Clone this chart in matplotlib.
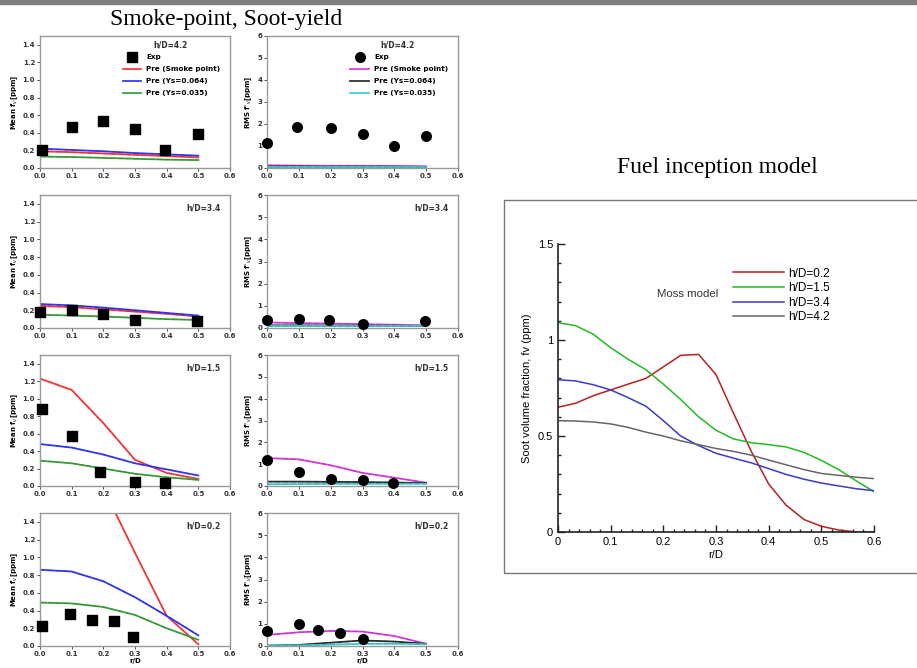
import matplotlib
matplotlib.use("Agg")
import matplotlib.pyplot as plt
from matplotlib.patches import Rectangle
from matplotlib.ticker import MultipleLocator

# ---- data ----
r_pre = [0.0, 0.1, 0.2, 0.3, 0.4, 0.5]
heights = ["4.2", "3.4", "1.5", "0.2"]

# mean fv, h/D=4.2
exp_r_mean_42 = [0.005, 0.1, 0.2, 0.3, 0.395, 0.5]
exp_mean_42 = [0.20, 0.47, 0.53, 0.44, 0.20, 0.39]
smoke_mean_42 = [0.19, 0.18, 0.165, 0.15, 0.135, 0.12]
ys064_mean_42 = [0.22, 0.205, 0.19, 0.17, 0.155, 0.14]
ys035_mean_42 = [0.13, 0.125, 0.115, 0.105, 0.095, 0.09]
# rms, h/D=4.2
exp_r_rms_42 = [0.0, 0.095, 0.2, 0.3, 0.4, 0.5]
exp_rms_42 = [1.15, 1.85, 1.80, 1.55, 0.98, 1.45]
smoke_rms_42 = [0.12, 0.11, 0.10, 0.10, 0.09, 0.08]
ys064_rms_42 = [0.07, 0.07, 0.06, 0.06, 0.06, 0.05]
ys035_rms_42 = [0.04, 0.04, 0.04, 0.04, 0.04, 0.04]

# h/D=3.4
exp_r_mean_34 = [0.0, 0.1, 0.2, 0.3, 0.495]
exp_mean_34 = [0.18, 0.20, 0.16, 0.09, 0.08]
smoke_mean_34 = [0.25, 0.235, 0.21, 0.185, 0.16, 0.13]
ys064_mean_34 = [0.27, 0.255, 0.23, 0.20, 0.17, 0.14]
ys035_mean_34 = [0.15, 0.14, 0.13, 0.115, 0.10, 0.09]
exp_r_rms_34 = [0.0, 0.1, 0.195, 0.3, 0.495]
exp_rms_34 = [0.35, 0.42, 0.35, 0.20, 0.30]
smoke_rms_34 = [0.25, 0.22, 0.20, 0.17, 0.15, 0.12]
ys064_rms_34 = [0.12, 0.12, 0.11, 0.10, 0.10, 0.09]
ys035_rms_34 = [0.08, 0.08, 0.08, 0.08, 0.08, 0.08]

# h/D=1.5
exp_r_mean_15 = [0.005, 0.1, 0.19, 0.3, 0.395]
exp_mean_15 = [0.88, 0.57, 0.16, 0.05, 0.03]
smoke_mean_15 = [1.23, 1.10, 0.72, 0.30, 0.15, 0.08]
ys064_mean_15 = [0.48, 0.44, 0.36, 0.26, 0.19, 0.12]
ys035_mean_15 = [0.29, 0.26, 0.20, 0.14, 0.10, 0.07]
exp_r_rms_15 = [0.0, 0.1, 0.2, 0.3, 0.395]
exp_rms_15 = [1.18, 0.62, 0.32, 0.28, 0.12]
smoke_rms_15 = [1.28, 1.22, 0.95, 0.60, 0.38, 0.15]
ys064_rms_15 = [0.20, 0.20, 0.19, 0.18, 0.16, 0.13]
ys035_rms_15 = [0.08, 0.09, 0.10, 0.10, 0.10, 0.10]

# h/D=0.2
exp_r_mean_02 = [0.005, 0.095, 0.165, 0.235, 0.295]
exp_mean_02 = [0.23, 0.36, 0.29, 0.28, 0.10]
smoke_mean_02 = [3.0, 2.6, 1.78, 1.05, 0.34, 0.02]
ys064_mean_02 = [0.86, 0.84, 0.73, 0.55, 0.34, 0.12]
ys035_mean_02 = [0.49, 0.48, 0.44, 0.35, 0.20, 0.07]
exp_r_rms_02 = [0.0, 0.1, 0.16, 0.23, 0.3]
exp_rms_02 = [0.68, 0.98, 0.72, 0.57, 0.32]
smoke_rms_02 = [0.50, 0.62, 0.68, 0.65, 0.45, 0.10]
ys064_rms_02 = [0.02, 0.05, 0.15, 0.25, 0.20, 0.10]
ys035_rms_02 = [0.02, 0.03, 0.06, 0.10, 0.10, 0.08]

# Moss model (fuel inception)
r_moss = [0.0, 0.033, 0.067, 0.1, 0.133, 0.167, 0.2, 0.233, 0.267, 0.3,
          0.333, 0.367, 0.4, 0.433, 0.467, 0.5, 0.533, 0.567, 0.6]
moss_02 = [0.65, 0.67, 0.71, 0.74, 0.77, 0.80, 0.86, 0.92, 0.925, 0.82,
           0.62, 0.42, 0.25, 0.14, 0.065, 0.03, 0.01, 0.0, 0.0]
moss_15 = [1.09, 1.075, 1.03, 0.96, 0.90, 0.845, 0.77, 0.69, 0.60, 0.53,
           0.485, 0.465, 0.455, 0.443, 0.415, 0.373, 0.325, 0.265, 0.21]
moss_34 = [0.793, 0.787, 0.767, 0.74, 0.70, 0.655, 0.58, 0.50, 0.45, 0.41,
           0.385, 0.36, 0.33, 0.30, 0.275, 0.255, 0.24, 0.225, 0.215]
moss_42 = [0.58, 0.578, 0.573, 0.563, 0.545, 0.52, 0.50, 0.475, 0.455, 0.435,
           0.42, 0.40, 0.375, 0.35, 0.325, 0.305, 0.295, 0.285, 0.278]

mean_rows = [
    (exp_r_mean_42, exp_mean_42, smoke_mean_42, ys064_mean_42, ys035_mean_42),
    (exp_r_mean_34, exp_mean_34, smoke_mean_34, ys064_mean_34, ys035_mean_34),
    (exp_r_mean_15, exp_mean_15, smoke_mean_15, ys064_mean_15, ys035_mean_15),
    (exp_r_mean_02, exp_mean_02, smoke_mean_02, ys064_mean_02, ys035_mean_02),
]
rms_rows = [
    (exp_r_rms_42, exp_rms_42, smoke_rms_42, ys064_rms_42, ys035_rms_42),
    (exp_r_rms_34, exp_rms_34, smoke_rms_34, ys064_rms_34, ys035_rms_34),
    (exp_r_rms_15, exp_rms_15, smoke_rms_15, ys064_rms_15, ys035_rms_15),
    (exp_r_rms_02, exp_rms_02, smoke_rms_02, ys064_rms_02, ys035_rms_02),
]

W, H = 917, 668
fig = plt.figure(figsize=(W / 100, H / 100), dpi=100)


def px_axes(x0, y0, x1, y1):
    return fig.add_axes([x0 / W, (H - y1) / H, (x1 - x0) / W, (y1 - y0) / H])


# top grey bar
fig.patches.append(Rectangle((0, (H - 4) / H), 1, 4 / H, transform=fig.transFigure,
                             color="#7f7f7f", zorder=0))

fig.text(226 / W, 1 - 20 / H, "Smoke-point, Soot-yield", ha="center", va="center",
         family="Liberation Serif", fontsize=17)
fig.text(717 / W, 1 - 168 / H, "Fuel inception model", ha="center", va="center",
         family="Liberation Serif", fontsize=17)

row_y = [(36, 168), (195, 328), (355, 486), (513, 646)]
mean_cols = ["#ff3b3b", "#3b3bff", "#3fa33f"]
mean_dark = ["#cc2020", "#2020bb", "#2a7a2a"]
rms_cols = ["#e040e0", "#333333", "#40d0d0"]
rms_dark = ["#a020a0", "#111111", "#20a0a0"]
labels = ["Pre (Smoke point)", "Pre (Ys=0.064)", "Pre (Ys=0.035)"]


def style_small(ax, ymax, ystep, yfmt):
    ax.set_xlim(0, 0.6)
    ax.set_ylim(0, ymax)
    ax.xaxis.set_major_locator(MultipleLocator(0.1))
    ax.yaxis.set_major_locator(MultipleLocator(ystep))
    ax.xaxis.set_major_formatter(matplotlib.ticker.FormatStrFormatter("%.1f"))
    ax.yaxis.set_major_formatter(matplotlib.ticker.FormatStrFormatter(yfmt))
    ax.tick_params(labelsize=5, length=2, width=0.6, pad=1.5, colors="#333333")
    for lab in ax.get_xticklabels() + ax.get_yticklabels():
        lab.set_fontweight("bold")
    for s in ax.spines.values():
        s.set_color("#999999")
        s.set_linewidth(1.0)


def draw_lines(ax, ys, cols, darks):
    handles = []
    for y, c, d, lab in zip(ys, cols, darks, labels):
        h, = ax.plot(r_pre, y, color=c, lw=1.3, label=lab)
        ax.plot(r_pre, y, color=d, lw=0.8, alpha=0.45, ls=(0, (5, 2)))
        handles.append(h)
    return handles


def add_legend(ax, he, hl):
    ax.legend([he] + hl, ["Exp"] + labels, loc="upper right",
              bbox_to_anchor=(0.95, 0.865), frameon=False,
              prop={"size": 5.2, "weight": "bold"}, handlelength=2.6,
              handletextpad=0.7, labelspacing=0.85, borderaxespad=0, borderpad=0)


for i, (y0, y1) in enumerate(row_y):
    hx = 0.685 if i == 0 else 0.95
    ha = "center" if i == 0 else "right"
    hy = 0.93 if i == 0 else 0.9

    # mean panel
    ax = px_axes(40, y0, 230, y1)
    er, ev, s1, s2, s3 = mean_rows[i]
    hl = draw_lines(ax, [s1, s2, s3], mean_cols, mean_dark)
    he = ax.scatter(er, ev, marker="s", s=44, color="black", zorder=5, clip_on=False)
    style_small(ax, 1.5, 0.2, "%.1f")
    ax.set_ylabel("Mean f$_v$[ppm]", fontsize=5, fontweight="bold", labelpad=2)
    ax.text(hx, hy, "h/D=" + heights[i], transform=ax.transAxes, ha=ha,
            va="center", fontsize=5.5, fontweight="bold", color="#333333")
    if i == 0:
        add_legend(ax, he, hl)
    if i == 3:
        ax.set_xlabel("r/D", fontsize=5, fontweight="bold", labelpad=1)

    # rms panel
    ax = px_axes(267, y0, 458, y1)
    er, ev, s1, s2, s3 = rms_rows[i]
    hl = draw_lines(ax, [s1, s2, s3], rms_cols, rms_dark)
    he = ax.scatter(er, ev, marker="o", s=48, color="black", zorder=5, clip_on=False)
    style_small(ax, 6, 1, "%d")
    ax.set_ylabel("RMS f'$_v$[ppm]", fontsize=5, fontweight="bold", labelpad=2)
    ax.text(hx, hy, "h/D=" + heights[i], transform=ax.transAxes, ha=ha,
            va="center", fontsize=5.5, fontweight="bold", color="#333333")
    if i == 0:
        add_legend(ax, he, hl)
    if i == 3:
        ax.set_xlabel("r/D", fontsize=5, fontweight="bold", labelpad=1)

# ---- Moss model panel ----
fig.patches.append(Rectangle((504 / W, (H - 573) / H), (W + 5 - 504) / W, (573 - 200) / H,
                             transform=fig.transFigure, fill=False,
                             edgecolor="#777777", lw=1.0, zorder=0))

ax = px_axes(558, 244, 874, 532)
moss_cols = ["#b82020", "#22bb22", "#3a3acc", "#666666"]
for y, c, h in zip([moss_02, moss_15, moss_34, moss_42], moss_cols,
                   ["0.2", "1.5", "3.4", "4.2"]):
    ax.plot(r_moss, y, color=c, lw=1.1, label="h/D=" + h)
ax.set_xlim(0, 0.6)
ax.set_ylim(0, 1.5)
ax.xaxis.set_major_locator(MultipleLocator(0.1))
ax.xaxis.set_minor_locator(MultipleLocator(0.02))
ax.yaxis.set_major_locator(MultipleLocator(0.5))
ax.yaxis.set_minor_locator(MultipleLocator(0.1))
fmt0 = matplotlib.ticker.FuncFormatter(lambda v, p: "0" if v == 0 else "%g" % v)
ax.xaxis.set_major_formatter(fmt0)
ax.yaxis.set_major_formatter(fmt0)
ax.tick_params(which="both", direction="in", labelsize=8, width=1.0, color="#222222")
ax.tick_params(which="major", length=5)
ax.tick_params(which="minor", length=2.5)
for k in ["top", "right"]:
    ax.spines[k].set_visible(False)
for k in ["left", "bottom"]:
    ax.spines[k].set_linewidth(1.2)
    ax.spines[k].set_color("#222222")
for lab in ax.get_xticklabels() + ax.get_yticklabels():
    lab.set_family("Liberation Sans")
ax.set_xlabel("r/D", fontsize=8, family="Liberation Sans", labelpad=2)
ax.set_ylabel("Soot volume fraction, fv (ppm)", fontsize=8, family="Liberation Sans",
              labelpad=4)
ax.legend(loc="upper left", bbox_to_anchor=(0.553, 0.918), frameon=False,
          prop={"family": "Liberation Sans", "size": 8.5}, handlelength=4.3,
          labelspacing=0.22, handletextpad=0.4, borderaxespad=0, borderpad=0)
ax.text(0.41, 0.825, "Moss model", transform=ax.transAxes, ha="center", va="center",
        fontsize=8.2, family="Liberation Sans", color="#333333")

fig.savefig("out.png", dpi=100)
